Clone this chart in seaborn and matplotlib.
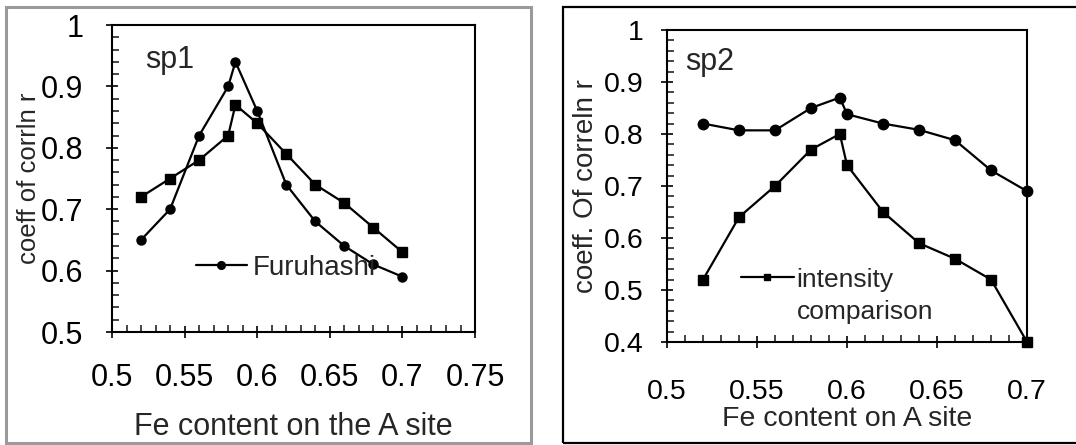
import numpy as np
import matplotlib
matplotlib.use("Agg")
import matplotlib.pyplot as plt
import matplotlib.patches as patches
from matplotlib.ticker import MultipleLocator, FuncFormatter
import seaborn as sns

# sp1 data
fe_sp1 = [0.52, 0.54, 0.56, 0.58, 0.585, 0.60, 0.62, 0.64, 0.66, 0.68, 0.70]
furuhashi_sp1 = [0.65, 0.70, 0.82, 0.90, 0.94, 0.86, 0.74, 0.68, 0.64, 0.61, 0.59]
intensity_sp1 = [0.72, 0.75, 0.78, 0.82, 0.87, 0.84, 0.79, 0.74, 0.71, 0.67, 0.63]

# sp2 data
fe_sp2 = [0.52, 0.54, 0.56, 0.58, 0.596, 0.60, 0.62, 0.64, 0.66, 0.68, 0.70]
furuhashi_sp2 = [0.82, 0.807, 0.807, 0.85, 0.87, 0.838, 0.82, 0.808, 0.788, 0.73, 0.69]
intensity_sp2 = [0.52, 0.64, 0.70, 0.77, 0.80, 0.74, 0.65, 0.59, 0.56, 0.52, 0.40]

sns.set_style("ticks")
plt.rcParams['font.family'] = ['Liberation Sans', 'DejaVu Sans']
FS = 22

fig = plt.figure(figsize=(10.76, 4.45), dpi=100)

# panel frames
fig.patches.append(patches.Rectangle((6 / 1076, 2 / 445), 525 / 1076, 436 / 445,
                                     transform=fig.transFigure, fill=False,
                                     edgecolor='#9a9a9a', linewidth=2.2))
fig.patches.append(patches.Rectangle((563 / 1076, 2 / 445), 530 / 1076, 436 / 445,
                                     transform=fig.transFigure, fill=False,
                                     edgecolor='black', linewidth=1.6))

ax1 = fig.add_axes([0.1041, 0.2539, 0.3374, 0.6899])
ax2 = fig.add_axes([0.6199, 0.2315, 0.3346, 0.7011])

fmt = FuncFormatter(lambda v, p: '%g' % round(v, 3))


def style_axis(ax, xlim, ylim, xpad, ypad, size):
    ax.set_xlim(*xlim)
    ax.set_ylim(*ylim)
    ax.xaxis.set_major_locator(MultipleLocator(0.05))
    ax.xaxis.set_minor_locator(MultipleLocator(0.01))
    ax.yaxis.set_major_locator(MultipleLocator(0.1))
    ax.yaxis.set_minor_locator(MultipleLocator(0.02))
    ax.xaxis.set_major_formatter(fmt)
    ax.yaxis.set_major_formatter(fmt)
    for s in ax.spines.values():
        s.set_visible(True)
        s.set_linewidth(1.5)
        s.set_color('black')
    ax.tick_params(which='major', direction='inout', length=9, width=1.2,
                   labelsize=size, colors='black')
    ax.tick_params(which='minor', direction='in', length=5, width=1.2)
    ax.tick_params(axis='x', which='major', pad=xpad)
    ax.tick_params(axis='y', which='major', pad=ypad)
    ax.set_facecolor('white')


style_axis(ax1, (0.5, 0.75), (0.5, 1.0), 18, 16, FS)
style_axis(ax2, (0.5, 0.7), (0.4, 1.0), 22, 12, 20.5)

line_kw = dict(color='black', linewidth=1.6, sort=False,
               markeredgecolor='black', markeredgewidth=1)

# sp1
sns.lineplot(x=fe_sp1, y=intensity_sp1, ax=ax1, marker='s', markersize=7.5,
             legend=False, **line_kw)
sns.lineplot(x=fe_sp1, y=furuhashi_sp1, ax=ax1, marker='o', markersize=6.5,
             label='Furuhashi', **line_kw)
ax1.legend(loc='center left', bbox_to_anchor=(0.23, 0.21), frameon=False,
           fontsize=20, handlelength=1.85, handletextpad=0.2, markerscale=0.85,
           borderpad=0, borderaxespad=0)
ax1.text(0.09, 0.885, 'sp1', transform=ax1.transAxes, fontsize=FS, va='center')
ax1.set_xlabel('Fe content on the A site', fontsize=FS)
ax1.set_ylabel('coeff of corrln r', fontsize=18.5)
ax1.yaxis.set_label_coords(-0.195, 0.5)
ax1.xaxis.set_label_coords(0.5, -0.26)

# sp2
sns.lineplot(x=fe_sp2, y=furuhashi_sp2, ax=ax2, marker='o', markersize=7.5,
             legend=False, clip_on=False, **line_kw)
sns.lineplot(x=fe_sp2, y=intensity_sp2, ax=ax2, marker='s', markersize=6.5,
             label='intensity', clip_on=False, **line_kw)
ax2.legend(loc='center left', bbox_to_anchor=(0.205, 0.2), frameon=False,
           fontsize=19, handlelength=2.0, handletextpad=0.1, markerscale=0.75,
           borderpad=0, borderaxespad=0)
ax2.text(0.361, 0.096, 'comparison', transform=ax2.transAxes,
         ha='left', va='center', fontsize=19)
ax2.text(0.05, 0.897, 'sp2', transform=ax2.transAxes, fontsize=FS, va='center')
ax2.set_xlabel('Fe content on A site', fontsize=20.5)
ax2.set_ylabel('coeff. Of correln r', fontsize=20)
ax2.yaxis.set_label_coords(-0.19, 0.5)
ax2.xaxis.set_label_coords(0.5, -0.205)

fig.savefig('out.png', dpi=100)
